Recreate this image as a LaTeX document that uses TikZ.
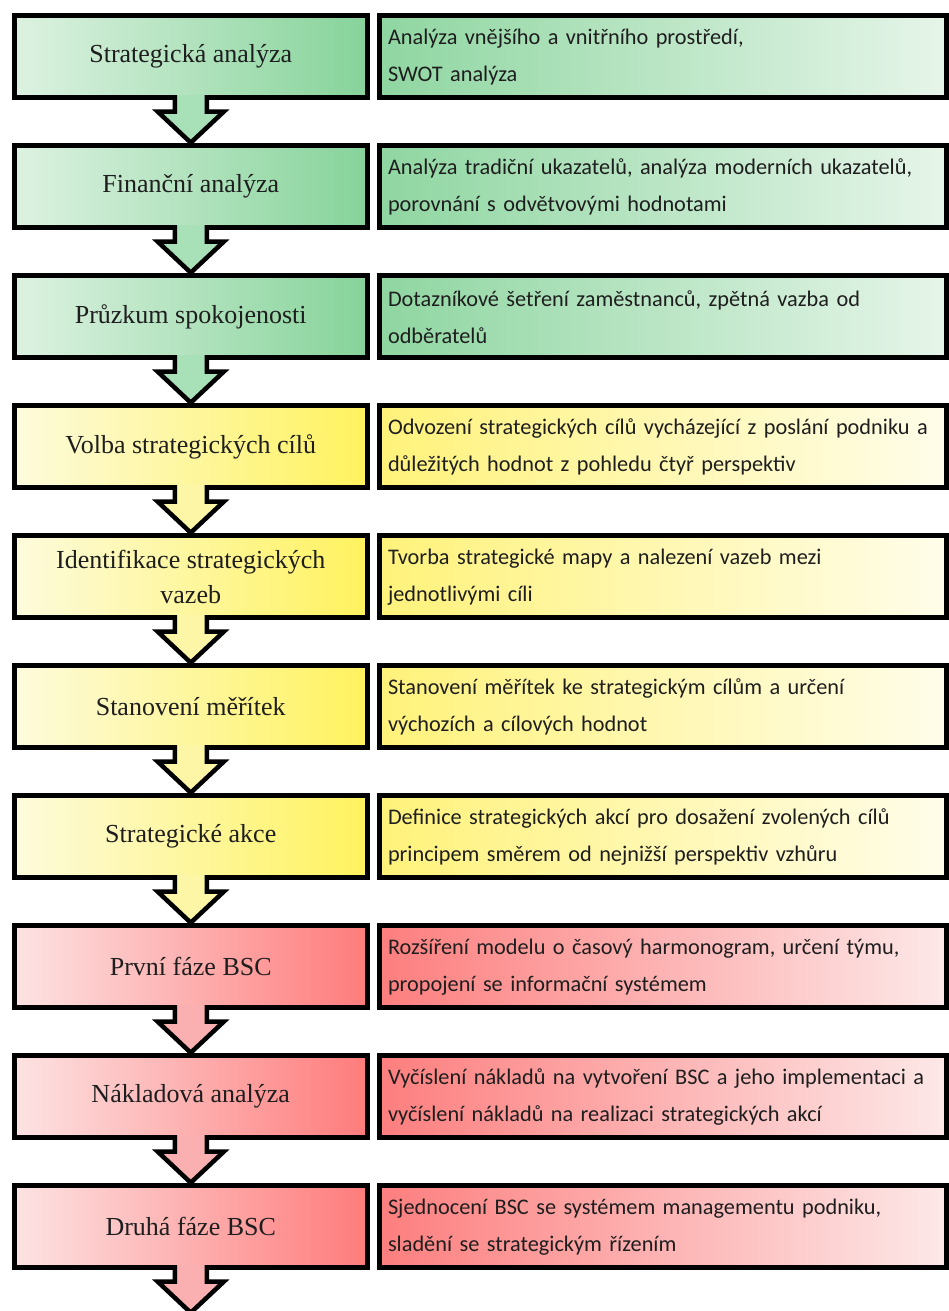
\documentclass[tikz,border=0pt]{standalone}
\usepackage{fontspec}
\setmainfont{Liberation Serif}
\newfontfamily\bodyfont{Carlito}
\usetikzlibrary{calc}

% palette
\definecolor{textgrey}{HTML}{1E1E1E}
\definecolor{gLa}{HTML}{DDF2E1}\definecolor{gLb}{HTML}{86D39A}
\definecolor{gRa}{HTML}{8FD6A1}\definecolor{gRb}{HTML}{E6F5E9}
\definecolor{gAr}{HTML}{A8E0B8}
\definecolor{yLa}{HTML}{FDFBDD}\definecolor{yLb}{HTML}{FFF25E}
\definecolor{yRa}{HTML}{FFF27A}\definecolor{yRb}{HTML}{FFFDEA}
\definecolor{yAr}{HTML}{FDF6A6}
\definecolor{rLa}{HTML}{FDE3E3}\definecolor{rLb}{HTML}{FE7B7B}
\definecolor{rRa}{HTML}{FD7E7E}\definecolor{rRb}{HTML}{FDE8E8}
\definecolor{rAr}{HTML}{FAB0B0}

\tikzset{
  stage/.style={draw=black, line width=5pt, line join=miter, minimum width=353.5pt,
    minimum height=82pt, inner sep=0pt, outer sep=0pt, text=textgrey,
    font=\fontsize{26}{35}\selectfont, align=center},
  detail/.style={draw=black, line width=5pt, line join=miter, minimum width=567pt,
    minimum height=82pt, inner xsep=9pt, inner ysep=0pt, outer sep=0pt,
    text width=549pt, align=left, text=textgrey,
    font=\bodyfont\fontsize{22.3}{37}\selectfont},
  greenL/.style={left color=gLa, right color=gLb},
  greenR/.style={left color=gRa, right color=gRb},
  yellowL/.style={left color=yLa, right color=yLb},
  yellowR/.style={left color=yRa, right color=yRb},
  redL/.style={left color=rLa, right color=rLb},
  redR/.style={left color=rRa, right color=rRb},
  arrowline/.style={draw=black, line width=4.5pt, line join=miter},
}

% block arrow from the bottom of #1 to the point #2, filled with #3
\newcommand\stagearrow[3]{%
  \fill[#3] ($(#1.south)+(-16,-2.5)$) -- ($(#1.south)+(-16,14)$) -- ($(#1.south)+(-33,14)$)
    -- ($(#2)+(0,-3)$) -- ($(#1.south)+(33,14)$) -- ($(#1.south)+(16,14)$)
    -- ($(#1.south)+(16,-2.5)$) -- cycle;
  \draw[arrowline] ($(#1.south)+(-16,-2.5)$) -- ($(#1.south)+(-16,14)$) -- ($(#1.south)+(-33,14)$)
    -- ($(#2)+(0,-3)$) -- ($(#1.south)+(33,14)$) -- ($(#1.south)+(16,14)$)
    -- ($(#1.south)+(16,-2.5)$);
}

\begin{document}
\begin{tikzpicture}[x=1pt, y=-1pt]
\useasboundingbox (0,0) rectangle (949,1311);
\clip (0,0) rectangle (949,1311);

% left column: stages
\node[stage, greenL]  (L1)  at (190.75, 56.7)  {Strategická analýza};
\node[stage, greenL]  (L2)  at (190.75, 186.7) {Finanční analýza};
\node[stage, greenL]  (L3)  at (190.75, 316.7) {Průzkum spokojenosti};
\node[stage, yellowL] (L4)  at (190.75, 446.7) {Volba strategických cílů};
\node[stage, yellowL] (L5)  at (190.75, 576.7) {Identifikace strategických\\vazeb};
\node[stage, yellowL] (L6)  at (190.75, 706.7) {Stanovení měřítek};
\node[stage, yellowL] (L7)  at (190.75, 836.7) {Strategické akce};
\node[stage, redL]    (L8)  at (190.75, 966.7) {První fáze BSC};
\node[stage, redL]    (L9)  at (190.75, 1096.7) {Nákladová analýza};
\node[stage, redL]    (L10) at (190.75, 1226.7) {Druhá fáze BSC};

% right column: descriptions
\node[detail, greenR]  (R1)  at (662.5, 56.7)  {Analýza vnějšího a vnitřního prostředí,\\SWOT analýza};
\node[detail, greenR]  (R2)  at (662.5, 186.7) {Analýza tradiční ukazatelů, analýza moderních ukazatelů,\\porovnání s odvětvovými hodnotami};
\node[detail, greenR]  (R3)  at (662.5, 316.7) {Dotazníkové šetření zaměstnanců, zpětná vazba od\\odběratelů};
\node[detail, yellowR] (R4)  at (662.5, 446.7) {Odvození strategických cílů vycházející z poslání podniku a\\důležitých hodnot z pohledu čtyř perspektiv};
\node[detail, yellowR] (R5)  at (662.5, 576.7) {Tvorba strategické mapy a nalezení vazeb mezi\\jednotlivými cíli};
\node[detail, yellowR] (R6)  at (662.5, 706.7) {Stanovení měřítek ke strategickým cílům a určení\\výchozích a cílových hodnot};
\node[detail, yellowR] (R7)  at (662.5, 836.7) {Definice strategických akcí pro dosažení zvolených cílů\\principem směrem od nejnižší perspektiv vzhůru};
\node[detail, redR]    (R8)  at (662.5, 966.7) {Rozšíření modelu o časový harmonogram, určení týmu,\\propojení se informační systémem};
\node[detail, redR]    (R9)  at (662.5, 1096.7) {Vyčíslení nákladů na vytvoření BSC a jeho implementaci a\\vyčíslení nákladů na realizaci strategických akcí};
\node[detail, redR]    (R10) at (662.5, 1226.7) {Sjednocení BSC se systémem managementu podniku,\\sladění se strategickým řízením};

% arrows between stages
\coordinate (end) at ($(L10.south)+(0,48)$);
\stagearrow{L1}{L2.north}{gAr}
\stagearrow{L2}{L3.north}{gAr}
\stagearrow{L3}{L4.north}{gAr}
\stagearrow{L4}{L5.north}{yAr}
\stagearrow{L5}{L6.north}{yAr}
\stagearrow{L6}{L7.north}{yAr}
\stagearrow{L7}{L8.north}{yAr}
\stagearrow{L8}{L9.north}{rAr}
\stagearrow{L9}{L10.north}{rAr}
\stagearrow{L10}{end}{rAr}
\end{tikzpicture}
\end{document}
